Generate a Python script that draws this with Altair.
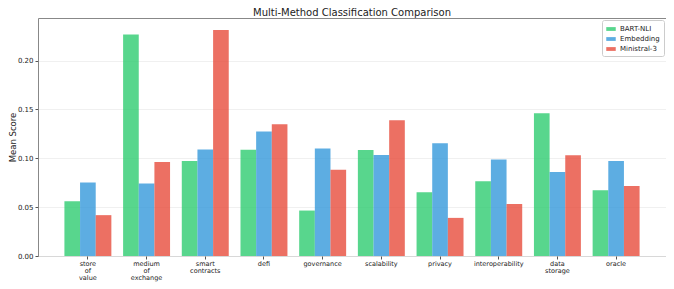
import altair as alt
import pandas as pd

categories = ["store of value", "medium of exchange", "smart contracts", "defi",
              "governance", "scalability", "privacy", "interoperability",
              "data storage", "oracle"]
methods = ["BART-NLI", "Embedding", "Ministral-3"]
bart = [0.056, 0.2265, 0.0972, 0.1088, 0.0465, 0.1085, 0.0652, 0.0765, 0.146, 0.0672]
embed = [0.0752, 0.0743, 0.1090, 0.1275, 0.1100, 0.1033, 0.1153, 0.0988, 0.0860, 0.0973]
mini = [0.0418, 0.0962, 0.2312, 0.1348, 0.0882, 0.1388, 0.0390, 0.0533, 0.1030, 0.0716]
colors = ["#2ecc71", "#3498db", "#e74c3c"]

rows = []
for m, vals in zip(methods, [bart, embed, mini]):
    for c, v in zip(categories, vals):
        rows.append({"category": c, "method": m, "score": v})
df = pd.DataFrame(rows)

FONT = "DejaVu Sans"

chart = alt.Chart(df).mark_bar(opacity=0.8).encode(
    x=alt.X("category:N", sort=categories,
            scale=alt.Scale(paddingInner=0.2, paddingOuter=0.45),
            axis=alt.Axis(title=None, labelAngle=0, labelExpr="split(datum.label, ' ')",
                          labelFontSize=6.5, labelLineHeight=7, labelFont=FONT,
                          labelColor="#222", tickColor="#555", tickSize=3,
                          domain=False, labelPadding=1)),
    xOffset=alt.XOffset("method:N", sort=methods),
    y=alt.Y("score:Q", scale=alt.Scale(domain=[0, 0.2435], nice=False),
            axis=alt.Axis(title="Mean Score", values=[0, 0.05, 0.1, 0.15, 0.2], format=".2f",
                          labelFontSize=7, labelFont=FONT, labelColor="#222",
                          titleFont=FONT, titleFontSize=8.5, titleFontWeight="normal",
                          titleColor="#222", titleX=-26, titleY=119, titleAngle=-90,
                          titleAlign="center", titleBaseline="middle",
                          tickColor="#555", tickSize=3, domain=False,
                          grid=True, gridColor="#ececec", gridWidth=0.8)),
    color=alt.Color("method:N", sort=methods,
                    scale=alt.Scale(domain=methods, range=colors),
                    legend=alt.Legend(title=None, orient="none", legendX=564, legendY=2,
                                      labelFont=FONT, labelFontSize=7, labelColor="#222",
                                      symbolType="M-1,-0.4L1,-0.4L1,0.4L-1,0.4Z",
                                      symbolSize=90, symbolOpacity=0.8, symbolStrokeWidth=0,
                                      rowPadding=2, padding=4, fillColor="white",
                                      strokeColor="#ccc", cornerRadius=2)),
).properties(
    width=628, height=238,
    title=alt.TitleParams("Multi-Method Classification Comparison", font=FONT,
                          fontSize=10, fontWeight="normal", color="#222", offset=0),
    autosize=alt.AutoSizeParams(type="none"),
    padding={"left": 30, "top": 10, "right": 0, "bottom": 30},
).configure_view(stroke="#888", strokeWidth=1)

chart.save("out.html", embed_options={"renderer": "svg", "actions": False})
